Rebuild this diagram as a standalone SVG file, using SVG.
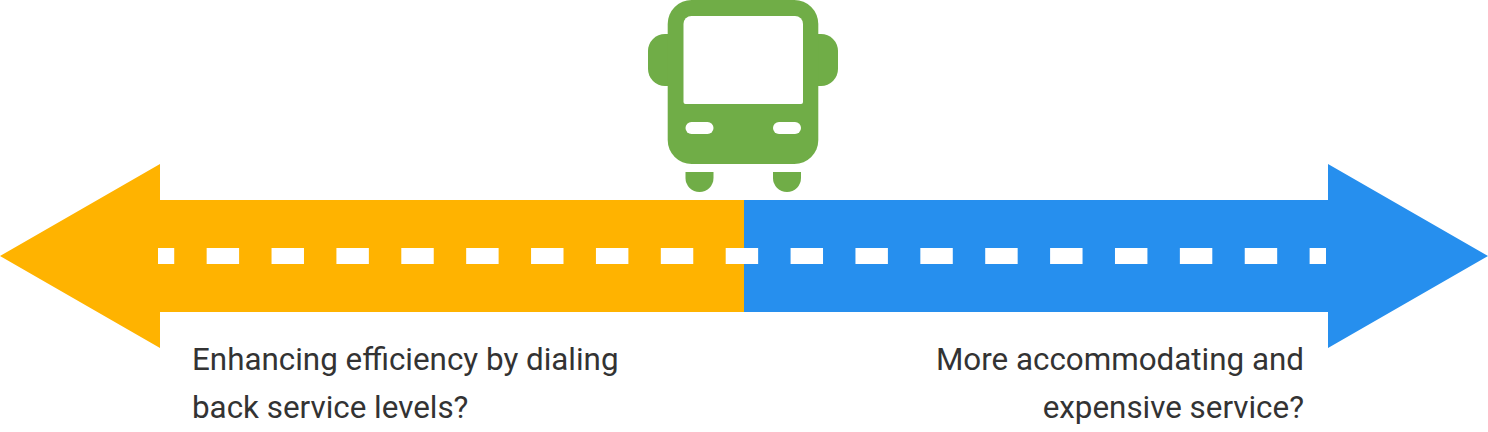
<svg xmlns="http://www.w3.org/2000/svg" width="1488" height="432" viewBox="0 0 1488 432">
<style>
.t{font-family:Roboto,"Liberation Sans",sans-serif;font-size:31.36px;fill:#333}
.bus{fill:#70ad47}
.hole{fill:#fff}
</style>
<rect width="1488" height="432" fill="#fff"/>
<g id="arrow-left"><polygon points="0,256 160,164 160,200 744,200 744,312 160,312 160,348" fill="#ffb300"/></g>
<g id="arrow-right"><polygon points="1488,256 1328,164 1328,200 744,200 744,312 1328,312 1328,348" fill="#268fee"/></g>
<g id="road-dashes"><line x1="158" y1="256" x2="1326" y2="256" stroke="#fff" stroke-width="16" stroke-dasharray="32.44" stroke-dashoffset="16.22"/></g>
<g id="bus">
<rect class="bus" x="648" y="34" width="190" height="52" rx="17"/>
<rect class="bus" x="667.7" y="0" width="150.6" height="164" rx="24"/>
<path class="hole" d="M683.5 24a8 8 0 0 1 8-8h103.5a8 8 0 0 1 8 8v78a2 2 0 0 1-2 2h-115.500a2 2 0 0 1-2-2z"/>
<rect class="hole" x="685.500" y="122" width="28" height="12" rx="6"/>
<rect class="hole" x="773" y="122" width="28" height="12" rx="6"/>
<path class="bus" d="M685.500 172h28v6a14 14 0 0 1-28 0z"/>
<path class="bus" d="M773 172h28v6a14 14 0 0 1-28 0z"/>
</g>
<g id="label-left"><text class="t" x="192" y="370">Enhancing efficiency by dialing</text><text class="t" x="192" y="418">back service levels?</text></g>
<g id="label-right"><text class="t" x="1304" y="370" text-anchor="end">More accommodating and</text><text class="t" x="1304" y="418" text-anchor="end">expensive service?</text></g>
</svg>
